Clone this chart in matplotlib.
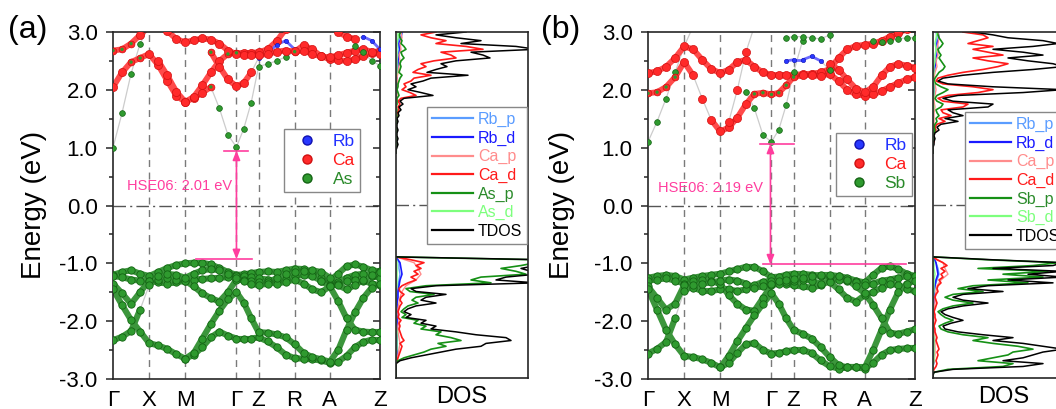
import numpy as np
import matplotlib
matplotlib.use('Agg')
import matplotlib.pyplot as plt
from matplotlib.lines import Line2D
from matplotlib.ticker import FormatStrFormatter, MultipleLocator

plt.rcParams['font.family'] = ['Liberation Sans', 'DejaVu Sans']
plt.rcParams['axes.unicode_minus'] = False

# ---------------- k-path ----------------
kpath_labels = ['Γ', 'X', 'M', 'Γ', 'Z', 'R', 'A', 'Z']
kpath_pos = [0, 36, 72, 123, 145, 181, 216, 266]
K = [0, 9, 18, 27, 36, 45, 54, 63, 72, 80.5, 89, 97.5, 106, 114.5, 123, 130.3,
     137.7, 145, 154, 163, 172, 181, 189.8, 198.5, 207.3, 216, 224.3, 232.7,
     241, 249.3, 257.7, 266]

# ---------------- panel (a) RbCaAs bands: (start index, energies, character) ----------------
a_c1 = (0, [1.00, 1.60, 2.28, 2.80, 3.10], 'ggggg')
a_c2 = (0, [2.05, 2.30, 2.48, 2.55, 2.62, 2.43, 2.16, 1.90, 1.79, 1.86, 1.95, 2.05,
            1.68, 1.22, 1.01, 1.33, 1.78, 2.40, 2.45, 2.50, 2.57, 2.66, 2.77, 2.70,
            2.58, 2.53, 2.51, 2.50, 2.53, 2.58, 2.64, 2.68],
        'rrmmrrrrrrrm' + 'ggggggggg' + 'm' + 'rrrrrrrrrr')
a_c3 = (5, [2.50, 2.25, 1.97, 1.79, 1.88, 2.08, 2.30, 2.50, 2.62, 2.64, 2.64, 2.64,
            2.65, 2.70, 2.84, 3.05], 'rrrrrrrrmmrrrrrr')
a_c4 = (11, [2.65, 2.40, 2.18, 2.06, 2.12, 2.30, 2.55, 2.62, 2.78, 2.85, 2.70], 'mrrrrrbbbbb')
a_c5 = (0, [2.68, 2.70, 2.80, 2.95, 3.10], 'mmmrr')
a_c6 = (6, [3.02, 2.88, 2.82, 2.86, 2.89, 2.87, 2.80, 2.68, 2.62, 2.60, 2.60, 2.60,
            2.62, 2.66, 2.68, 2.68, 2.68, 2.62, 2.58, 2.56, 2.60, 2.64, 2.68, 2.70,
            2.66, 2.62], 'r' * 26)
a_c7 = (26, [3.00, 2.92, 2.88, 2.92, 2.85, 2.70], 'rrrbbb')
a_c8 = (28, [2.75, 2.65, 2.50, 2.42], 'gggg')

a_v1 = (0, [-1.20, -1.15, -1.12, -1.18, -1.22, -1.15, -1.08, -1.03, -1.00, -0.99, -0.99,
            -1.02, -1.08, -1.15, -1.20, -1.19, -1.17, -1.15, -1.14, -1.15, -1.12, -1.09,
            -1.10, -1.16, -1.25, -1.30, -1.18, -1.05, -1.02, -1.06, -1.12, -1.14])
a_v2 = (0, [-1.22, -1.24, -1.28, -1.30, -1.30, -1.33, -1.35, -1.33, -1.30, -1.28, -1.27,
            -1.26, -1.25, -1.24, -1.22, -1.22, -1.24, -1.26, -1.28, -1.30, -1.27, -1.22,
            -1.20, -1.22, -1.30, -1.38, -1.32, -1.25, -1.20, -1.18, -1.22, -1.25])
a_v3 = (0, [-1.35, -1.52, -1.70, -1.50, -1.30, -1.28, -1.26, -1.28, -1.30, -1.40, -1.52,
            -1.60, -1.66, -1.50, -1.28, -1.28, -1.30, -1.32, -1.33, -1.35, -1.32, -1.28,
            -1.35, -1.45, -1.50, -1.40, -1.35, -1.30, -1.28, -1.30, -1.35, -1.38])
a_v4 = (0, [-1.45, -1.72, -1.98, -2.18, -2.38, -2.42, -2.48, -2.57, -2.65, -2.58, -2.45,
            -2.28, -2.18, -2.25, -2.30, -2.30, -2.30, -2.28, -2.35, -2.45, -2.58, -2.64,
            -2.65, -2.66, -2.68, -2.72, -2.70, -2.60, -2.45, -2.36, -2.32, -2.32])
a_v5 = (0, [-2.33, -2.27, -2.17, -1.80, -1.38, -1.22, -1.18, -1.20, -1.25, -1.18, -1.12,
            -1.10, -1.12, -1.18, -1.25, -1.30, -1.35, -1.38, -1.35, -1.25, -1.18, -1.15,
            -1.13, -1.12, -1.15, -1.25, -1.38, -1.45, -1.38, -1.28, -1.20, -1.15])
a_v6 = (8, [-2.65, -2.55, -2.30, -2.05, -1.82, -1.62, -1.50, -1.68, -1.95, -2.19, -2.20,
            -2.23, -2.28, -2.40, -2.55, -2.62, -2.66, -2.70, -2.50, -2.15, -1.85, -1.60,
            -1.42, -1.35])
a_v7 = (24, [-1.30, -1.40, -1.65, -1.95, -2.15, -2.18, -2.19, -2.19])

# ---------------- panel (b) RbCaSb bands ----------------
b_c1 = (0, [1.10, 1.45, 1.85, 2.30, 2.75, 3.10], 'gggggg')
b_c2 = (0, [2.29, 2.32, 2.40, 2.55, 2.75, 2.70, 2.52, 2.36, 2.29, 2.35, 2.48, 2.52,
            2.40, 2.30, 2.26, 2.26, 2.26, 2.26, 2.27, 2.28, 2.30, 2.36, 2.55, 2.70,
            2.76, 2.78, 2.80, 2.85, 2.92, 2.98, 3.05], 'r' * 31)
b_c3 = (0, [1.94, 1.96, 2.05, 2.22, 2.48, 2.25, 1.85, 1.48, 1.28, 1.35, 1.52, 1.75,
            1.93, 1.95, 1.92, 1.95, 2.08, 2.22, 2.25, 2.25, 2.24, 2.28, 2.15, 2.00,
            1.92, 1.90, 1.92, 1.98, 2.05, 2.12, 2.18, 2.22],
        'mmmm' + 'rrrrrrrr' + 'mmmmmm' + 'r' * 14)
b_c4 = (11, [1.97, 1.68, 1.22, 1.10, 1.31, 1.74, 2.30, 2.85], 'gggggggg')
b_c5 = (21, [2.45, 2.35, 2.18, 2.02, 1.96, 2.05, 2.25, 2.40, 2.45, 2.42, 2.38], 'r' * 11)
b_c6 = (16, [2.50, 2.52, 2.52, 2.58, 2.50, 2.35], 'bbbbbg')
b_c7 = (16, [2.90, 2.92, 2.92, 2.90, 2.88, 2.95], 'gggggg')
b_c8 = (26, [2.85, 2.82, 2.85, 2.88, 2.90, 2.90], 'gggggg')
b_c9 = (9, [1.45, 2.00, 2.65, 3.10], 'rrrr')

b_v1 = (0, [-1.25, -1.22, -1.20, -1.22, -1.28, -1.25, -1.22, -1.20, -1.18, -1.14, -1.10,
            -1.06, -1.06, -1.14, -1.24, -1.23, -1.20, -1.18, -1.18, -1.20, -1.22, -1.24,
            -1.22, -1.25, -1.30, -1.33, -1.20, -1.08, -1.05, -1.10, -1.18, -1.22])
b_v2 = (0, [-1.30, -1.28, -1.26, -1.30, -1.35, -1.42, -1.48, -1.48, -1.45, -1.45, -1.48,
            -1.45, -1.38, -1.32, -1.30, -1.32, -1.35, -1.38, -1.40, -1.42, -1.38, -1.30,
            -1.28, -1.30, -1.32, -1.38, -1.35, -1.30, -1.28, -1.25, -1.22, -1.22])
b_v3 = (0, [-1.40, -1.60, -1.80, -1.70, -1.38, -1.30, -1.28, -1.30, -1.36, -1.55, -1.70,
            -1.80, -1.82, -1.60, -1.38, -1.35, -1.32, -1.30, -1.28, -1.30, -1.35, -1.32,
            -1.45, -1.60, -1.66, -1.55, -1.50, -1.42, -1.35, -1.38, -1.45, -1.48])
b_v4 = (0, [-1.45, -1.80, -2.15, -2.40, -2.60, -2.62, -2.66, -2.72, -2.80, -2.72, -2.55,
            -2.40, -2.38, -2.50, -2.56, -2.55, -2.52, -2.50, -2.50, -2.55, -2.68, -2.78,
            -2.82, -2.80, -2.80, -2.82, -2.72, -2.58, -2.50, -2.48, -2.47, -2.47])
b_v5 = (0, [-2.56, -2.48, -2.36, -1.95, -1.48, -1.38, -1.35, -1.33, -1.30, -1.28, -1.30,
            -1.35, -1.42, -1.40, -1.35, -1.30, -1.28, -1.27, -1.25, -1.22, -1.20, -1.20,
            -1.22, -1.28, -1.40, -1.52, -1.72, -1.95, -2.20, -2.22, -2.18, -2.14])
b_v6 = (8, [-2.80, -2.60, -2.35, -2.12, -1.90, -1.70, -1.52, -1.70, -1.95, -2.15, -2.22,
            -2.30, -2.45, -2.62, -2.76, -2.80, -2.80, -2.80, -2.50, -2.15, -1.80, -1.50,
            -1.35, -1.30])

# ---------------- DOS (energy grids, eV) ----------------
E_val = np.round(np.arange(-3.0, -0.875, 0.05), 2)    # 43 samples
E_con = np.round(np.arange(0.90, 3.025, 0.05), 2)     # 43 samples
E_val10 = np.round(np.arange(-3.0, -0.85, 0.1), 2)    # 22 samples
E_con10 = np.round(np.arange(0.90, 3.05, 0.1), 2)     # 22 samples

# panel (a)
a_tdos_v = [0, 0, 0, 0, 0, 0, 4, 15, 30, 45, 60, 85, 90, 115, 110, 80, 60, 35, 40, 25,
            30, 10, 15, 8, 12, 20, 40, 25, 30, 50, 20, 15, 40, 140, 100, 110, 140, 135,
            125, 140, 150, 150, 0]
a_Xp_v = [0, 0, 0, 0, 0, 0, 2, 8, 18, 28, 35, 50, 42, 65, 55, 40, 45, 25, 30, 18, 22,
          6, 10, 5, 8, 12, 22, 16, 20, 38, 14, 10, 30, 95, 75, 85, 130, 120, 105, 125,
          140, 140, 0]
a_Cad_v = [0, 0, 0, 0, 0, 0, 1, 2, 3, 4, 5, 6, 4, 8, 6, 5, 4, 3, 4, 3, 5, 2, 3, 2, 3, 4,
           6, 4, 5, 8, 4, 3, 6, 12, 20, 15, 22, 18, 25, 20, 28, 15, 0]
a_Cap_v = [0, 0, 0, 1, 2, 3, 4, 3, 2, 2, 3, 2, 2, 3, 4, 6, 10, 20, 25, 22, 18, 0]
a_Rbd_v = [0, 0, 0, 0, 1, 1, 1, 1, 1, 1, 1, 1, 1, 1, 2, 2, 3, 4, 6, 5, 4, 0]
a_Rbp_v = [0, 0, 0, 0, 1, 1, 1, 1, 1, 1, 1, 1, 1, 1, 1, 2, 2, 3, 4, 3, 3, 0]
a_Xd_v = [0, 0, 0, 0, 0, 1, 1, 1, 1, 0, 0, 0, 0, 0, 0, 0, 1, 1, 1, 1, 1, 0]

a_tdos_c = [0, 0, 1, 2, 1, 2, 1, 1, 2, 1, 1, 2, 1, 3, 2, 5, 3, 7, 4, 8, 37, 25, 12, 20,
            15, 27, 35, 72, 31, 40, 51, 45, 60, 94, 87, 75, 140, 120, 65, 85, 60, 40, 70]
a_Cad_c = [0, 0, 0, 1, 0, 1, 0, 0, 1, 0, 0, 1, 0, 1, 1, 3, 2, 4, 2, 5, 20, 14, 6, 10, 8,
           15, 18, 35, 17, 22, 30, 25, 38, 60, 55, 45, 87, 70, 40, 50, 35, 25, 40]
a_Xp_c = [0, 0, 0, 1, 0, 1, 0, 0, 1, 0, 0, 1, 0, 1, 0, 1, 0, 1, 1, 1, 3, 2, 1, 2, 2, 3,
          4, 6, 3, 4, 5, 4, 5, 8, 6, 5, 10, 8, 5, 6, 4, 3, 5]
a_Cap_c = [0, 0, 0, 0, 0, 0, 0, 0, 0, 0, 1, 1, 2, 1, 2, 3, 4, 3, 5, 4, 6, 5]
a_Rbd_c = [0, 0, 0, 0, 0, 0, 0, 0, 0, 0, 0, 0, 1, 1, 1, 2, 2, 3, 4, 3, 5, 6]
a_Rbp_c = [0, 0, 0, 0, 0, 0, 0, 0, 0, 0, 0, 0, 0, 1, 1, 1, 2, 2, 3, 2, 3, 4]
a_Xd_c = [0, 0, 0, 0, 0, 0, 0, 0, 0, 0, 0, 0, 0, 0, 1, 1, 1, 1, 1, 1, 2, 2]

# panel (b)
b_tdos_v = [0, 0, 1, 20, 90, 110, 70, 90, 100, 110, 130, 110, 90, 60, 80, 50, 25, 12, 10,
            18, 30, 20, 12, 8, 15, 30, 55, 30, 20, 30, 70, 35, 55, 120, 75, 130, 95, 130,
            60, 120, 130, 60, 0]
b_Xp_v = [0, 0, 1, 15, 70, 80, 45, 60, 75, 80, 100, 85, 60, 40, 55, 30, 15, 8, 6, 12, 20,
          12, 8, 5, 10, 20, 40, 20, 12, 20, 50, 25, 40, 95, 55, 110, 70, 115, 45, 100,
          125, 55, 0]
b_Cad_v = [0, 0, 0, 1, 3, 4, 3, 4, 5, 4, 6, 5, 4, 3, 4, 3, 2, 2, 1, 2, 3, 2, 2, 1, 2, 3,
           4, 3, 2, 3, 5, 4, 5, 8, 6, 10, 8, 12, 8, 14, 10, 4, 0]
b_Cap_v = [0, 0, 0, 1, 2, 2, 2, 2, 1, 1, 1, 1, 1, 2, 2, 3, 4, 8, 15, 12, 10, 0]
b_Rbd_v = [0, 0, 0, 1, 1, 1, 1, 1, 1, 0, 0, 0, 0, 1, 1, 1, 2, 3, 5, 4, 3, 0]
b_Rbp_v = [0, 0, 0, 1, 1, 1, 1, 1, 1, 0, 0, 0, 0, 0, 1, 1, 2, 4, 6, 5, 3, 0]
b_Xd_v = [0, 0, 0, 1, 1, 1, 1, 1, 0, 0, 0, 0, 0, 0, 0, 1, 1, 1, 2, 1, 1, 0]

b_tdos_c = [0, 0, 0, 1, 1, 2, 1, 2, 6, 4, 8, 25, 12, 30, 20, 15, 55, 60, 20, 10, 25, 90,
            130, 60, 15, 5, 10, 30, 60, 100, 130, 120, 95, 75, 110, 90, 60, 100, 125,
            110, 75, 60, 40]
b_Cad_c = [0, 0, 0, 0, 1, 1, 0, 1, 3, 2, 4, 12, 6, 18, 10, 8, 30, 35, 10, 5, 15, 45, 60,
           40, 10, 3, 5, 15, 30, 50, 65, 75, 55, 40, 70, 55, 40, 60, 35, 45, 55, 50, 30]
b_Xp_c = [0, 0, 0, 0, 0, 1, 0, 1, 2, 1, 2, 4, 3, 6, 4, 3, 8, 10, 4, 2, 4, 10, 15, 8, 3,
          1, 2, 4, 6, 10, 12, 10, 8, 6, 8, 6, 5, 8, 10, 8, 6, 5, 4]
b_Cap_c = [0, 0, 0, 0, 0, 1, 1, 1, 2, 1, 2, 3, 2, 1, 2, 4, 3, 5, 4, 5, 6, 5]
b_Rbd_c = [0, 0, 0, 0, 0, 0, 0, 0, 0, 0, 1, 1, 1, 0, 1, 2, 3, 4, 5, 4, 6, 5]
b_Rbp_c = [0, 0, 0, 0, 0, 0, 0, 0, 0, 0, 0, 1, 1, 0, 1, 1, 2, 3, 3, 3, 4, 3]
b_Xd_c = [0, 0, 0, 0, 0, 0, 0, 0, 1, 0, 1, 1, 1, 0, 1, 1, 2, 2, 3, 2, 3, 4]

gap_labels = ['HSE06: 2.01 eV', 'HSE06: 2.19 eV']
anion = ['As', 'Sb']

# ---------------- styling ----------------
W, H = 1056, 409
fig = plt.figure(figsize=(W / 100, H / 100), dpi=100)


def fax(x0, y0, x1, y1):
    return fig.add_axes([x0 / W, 1 - y1 / H, (x1 - x0) / W, (y1 - y0) / H])


RED, RED_E = '#ff2a2a', '#d01010'
GRN, GRN_E = '#2f9a2f', '#146414'
BLU, BLU_E = '#2838ff', '#1010b0'
PINK = '#ff3d9e'
SPINE = '#262626'


def draw_band(ax, band, valence=False):
    if valence:
        start, vals = band
        codes = 'v' * len(vals)
    else:
        start, vals, codes = band
    ks = K[start:start + len(vals)]
    ax.plot(ks, vals, color='#cccccc', lw=0.9, zorder=1, solid_capstyle='round')
    # continuous "fat band" underlay for dense (not steep) Ca / valence chains
    for i in range(len(vals) - 1):
        a, b = codes[i], codes[i + 1]
        seg_k, seg_e = [ks[i], ks[i + 1]], [vals[i], vals[i + 1]]
        de = abs(vals[i + 1] - vals[i])
        if a == 'v' and b == 'v' and de < 0.42:
            ax.plot(seg_k, seg_e, color='#3c963c', lw=4.4, zorder=2,
                    solid_capstyle='round')
        elif a in 'rm' and b in 'rm' and de < 0.3:
            ax.plot(seg_k, seg_e, color='#ff4a4a', lw=4.2, zorder=2,
                    solid_capstyle='round')
        elif a == 'b' and b == 'b':
            ax.plot(seg_k, seg_e, color='#6a6aff', lw=2.0, zorder=2,
                    solid_capstyle='round')
    for code in set(codes):
        idx = [i for i, c in enumerate(codes) if c == code]
        kk = [ks[i] for i in idx]
        ee = [vals[i] for i in idx]
        if code == 'v':
            ax.scatter(kk, ee, s=28, c=GRN, edgecolors=GRN_E, linewidths=0.6, zorder=3)
        elif code == 'g':
            ax.scatter(kk, ee, s=17, c=GRN, edgecolors=GRN_E, linewidths=0.5, zorder=3)
        elif code == 'r':
            ax.scatter(kk, ee, s=34, c=RED, edgecolors=RED_E, linewidths=0.5, zorder=3)
        elif code == 'm':
            ax.scatter(kk, ee, s=24, c=RED, edgecolors=RED_E, linewidths=0.5, zorder=3)
            ax.scatter(kk, ee, s=6, c=GRN, edgecolors='none', zorder=4)
        elif code == 'b':
            ax.scatter(kk, ee, s=10, c=BLU, edgecolors=BLU_E, linewidths=0.4, zorder=3)


def style_band_axes(ax):
    ax.set_xlim(kpath_pos[0], kpath_pos[-1])
    ax.set_ylim(-3, 3)
    ax.set_xticks(kpath_pos)
    ax.set_xticklabels(kpath_labels, fontsize=16)
    ax.tick_params(axis='x', length=0, pad=8)
    ax.set_yticks([-3, -2, -1, 0, 1, 2, 3])
    ax.yaxis.set_major_formatter(FormatStrFormatter('%.1f'))
    ax.yaxis.set_minor_locator(MultipleLocator(0.5))
    ax.tick_params(axis='y', which='both', direction='out', labelsize=16, width=1.1,
                   color=SPINE, pad=6)
    ax.tick_params(axis='y', which='major', length=5)
    ax.tick_params(axis='y', which='minor', length=3)
    sec = ax.secondary_yaxis('right')
    sec.set_yticks([-3, -2, -1, 0, 1, 2, 3])
    sec.yaxis.set_minor_locator(MultipleLocator(0.5))
    sec.tick_params(axis='y', which='both', direction='in', labelright=False,
                    width=1.1, color=SPINE)
    sec.tick_params(axis='y', which='major', length=5)
    sec.tick_params(axis='y', which='minor', length=3)
    sec.spines['right'].set_visible(False)
    for sp in ax.spines.values():
        sp.set_linewidth(1.2)
        sp.set_color(SPINE)
    for k in kpath_pos[1:-1]:
        ax.axvline(k, color='#7a7a7a', lw=1.0, ls=(0, (5, 4)), zorder=0)
    ax.axhline(0, color='#555555', lw=1.0, ls=(0, (9, 3, 1.5, 3)), zorder=0)


def draw_dos(ax, data, cols, lws):
    for (E, vals), c, lw in zip(data, cols, lws):
        ax.plot(vals, E, color=c, lw=lw)
    ax.set_xlim(0, 132)
    ax.set_ylim(-3, 3)
    ax.set_xticks([])
    ax.set_yticks([])
    for sp in ax.spines.values():
        sp.set_linewidth(1.2)
        sp.set_color(SPINE)
    ax.axhline(0, color='#555555', lw=1.0, ls=(0, (9, 3, 1.5, 3)), zorder=0)


panels = [
    dict(x0=113, dx=396, cond=[a_c1, a_c2, a_c3, a_c4, a_c5, a_c6, a_c7, a_c8],
         val=[a_v1, a_v2, a_v3, a_v4, a_v5, a_v6, a_v7],
         cbm=0.95, vbm=-0.93, top_bar=(111, 134), bot_bar=(83, 138), arrow_k=123,
         txt_pos=(66, 0.33), leg_band=(284, 129), leg_dos=(427, 107),
         lab='(a)', lab_x=8, ylab_x=34, doslab_x=462,
         dos=dict(v=[a_Rbp_v, a_Rbd_v, a_Cap_v, a_Cad_v, a_Xp_v, a_Xd_v, a_tdos_v],
                  c=[a_Rbp_c, a_Rbd_c, a_Cap_c, a_Cad_c, a_Xp_c, a_Xd_c, a_tdos_c])),
    dict(x0=648, dx=933, cond=[b_c1, b_c2, b_c3, b_c4, b_c5, b_c6, b_c7, b_c8, b_c9],
         val=[b_v1, b_v2, b_v3, b_v4, b_v5, b_v6],
         cbm=1.07, vbm=-1.02, top_bar=(112, 145), bot_bar=(115, 257), arrow_k=122,
         txt_pos=(62, 0.30), leg_band=(836, 133), leg_dos=(965, 112),
         lab='(b)', lab_x=541, ylab_x=562, doslab_x=1004,
         dos=dict(v=[b_Rbp_v, b_Rbd_v, b_Cap_v, b_Cad_v, b_Xp_v, b_Xd_v, b_tdos_v],
                  c=[b_Rbp_c, b_Rbd_c, b_Cap_c, b_Cad_c, b_Xp_c, b_Xd_c, b_tdos_c])),
]

dos_cols = ['#5a9cff', '#1a1aff', '#ff8c8c', '#ff1a1a', '#159015', '#7dff7d', '#000000']
dos_txt = ['#5a9cff', '#1a1aff', '#ff8c8c', '#ff1a1a', '#2a8a2a', '#7dff7d', '#000000']
dos_lw = [1.0, 1.2, 1.0, 1.2, 1.2, 1.0, 1.1]

for i, p in enumerate(panels):
    ax = fax(p['x0'], 32, p['x0'] + 267, 379)
    style_band_axes(ax)
    for b in p['val']:
        draw_band(ax, b, valence=True)
    for b in p['cond']:
        draw_band(ax, b)
    # gap annotation
    ak = p['arrow_k']
    ax.plot(p['top_bar'], [p['cbm'], p['cbm']], color=PINK, lw=1.2, zorder=5)
    ax.plot(p['bot_bar'], [p['vbm'], p['vbm']], color=PINK, lw=1.2, zorder=5)
    ax.annotate('', xy=(ak, p['cbm']), xytext=(ak, p['vbm']),
                arrowprops=dict(arrowstyle='<|-|>,head_length=0.55,head_width=0.22',
                                color=PINK, lw=1.2, shrinkA=0, shrinkB=0), zorder=5)
    ax.text(p['txt_pos'][0], p['txt_pos'][1], gap_labels[i], color=PINK, fontsize=10.5,
            ha='center', va='center', zorder=6)
    # atom legend
    h = [Line2D([], [], ls='', marker='o', ms=6.5, mfc=BLU, mec=BLU_E),
         Line2D([], [], ls='', marker='o', ms=6.5, mfc=RED, mec=RED_E),
         Line2D([], [], ls='', marker='o', ms=6.5, mfc=GRN, mec=GRN_E)]
    lg = fig.legend(h, ['Rb', 'Ca', anion[i]], loc='upper left',
                    bbox_to_anchor=(p['leg_band'][0] / W, 1 - p['leg_band'][1] / H),
                    borderaxespad=0, fontsize=12.5, frameon=True, fancybox=False,
                    edgecolor='#888888', framealpha=1, handletextpad=0.5,
                    handlelength=2.0, labelspacing=0.2, borderpad=0.3,
                    labelcolor=['#2030ff', '#ff1a1a', '#2a8a2a'])
    lg.get_frame().set_linewidth(1.0)

    # DOS
    dax = fax(p['dx'], 32, p['dx'] + 132, 378)
    data, cols, lws = [], [], []
    for j in range(7):
        Ev = E_val10 if len(p['dos']['v'][j]) == 22 else E_val
        Ec = E_con10 if len(p['dos']['c'][j]) == 22 else E_con
        data += [(Ev, p['dos']['v'][j]), (Ec, p['dos']['c'][j])]
        cols += [dos_cols[j]] * 2
        lws += [dos_lw[j]] * 2
    draw_dos(dax, data, cols, lws)
    names = ['Rb_p', 'Rb_d', 'Ca_p', 'Ca_d', anion[i] + '_p', anion[i] + '_d', 'TDOS']
    hd = [Line2D([], [], color=c, lw=1.6) for c in dos_cols]
    lg2 = fig.legend(hd, names, loc='upper left',
                     bbox_to_anchor=(p['leg_dos'][0] / W, 1 - p['leg_dos'][1] / H),
                     borderaxespad=0, fontsize=11.5, frameon=True, fancybox=False,
                     edgecolor='#888888', framealpha=1, handletextpad=0.3,
                     handlelength=2.6, labelspacing=0.22, borderpad=0.3,
                     labelcolor=dos_txt)
    lg2.get_frame().set_linewidth(1.0)

    fig.text(p['lab_x'] / W, 1 - 30 / H, p['lab'], fontsize=23, ha='left', va='center')
    fig.text(p['ylab_x'] / W, 1 - 205 / H, 'Energy (eV)', fontsize=20, rotation=90,
             ha='center', va='center')
    fig.text(p['doslab_x'] / W, 1 - 397 / H, 'DOS', fontsize=17, ha='center',
             va='center')

fig.savefig('out.png', dpi=100)
